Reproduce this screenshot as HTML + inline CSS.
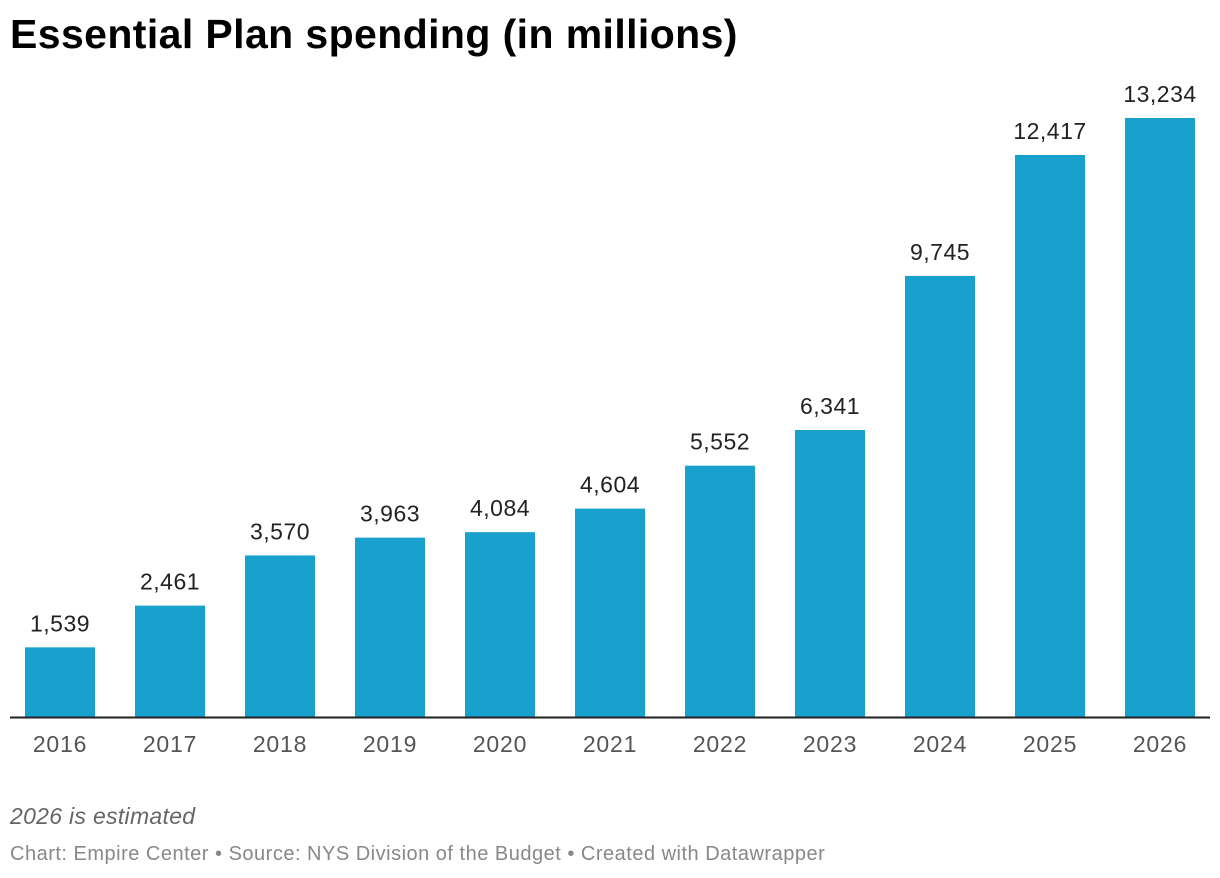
<!DOCTYPE html>
<html><head><meta charset="utf-8">
<style>
body{margin:0;background:#fff;width:1220px;height:878px;overflow:hidden;font-family:"Liberation Sans",Arial,sans-serif;}
#title{position:absolute;left:10px;top:11px;font-size:41px;font-weight:bold;color:#000;margin:0;letter-spacing:0.4px}
#note{position:absolute;left:10px;top:803px;font-size:23px;font-style:italic;color:#666;letter-spacing:0.3px}
#source{position:absolute;left:10px;top:843px;font-size:20px;color:#888;letter-spacing:0.5px}
svg{position:absolute;left:0;top:0}
</style></head><body>
<h1 id="title">Essential Plan spending (in millions)</h1>
<svg id="chart" width="1220" height="878"></svg>
<div id="note">2026 is estimated</div>
<div id="source">Chart: Empire Center • Source: NYS Division of the Budget • Created with Datawrapper</div>
<script>
const categories=["2016","2017","2018","2019","2020","2021","2022","2023","2024","2025","2026"];
const values=[1539,2461,3570,3963,4084,4604,5552,6341,9745,12417,13234];
const valueLabels=["1,539","2,461","3,570","3,963","4,084","4,604","5,552","6,341","9,745","12,417","13,234"];

const svg=document.getElementById('chart');
const NS='http://www.w3.org/2000/svg';
const baseY=717, topY=118, maxV=13234;
const y=v=>baseY-(v/maxV)*(baseY-topY);
const x0=25, step=110, bw=70;
const x=i=>x0+i*step;
categories.forEach((c,i)=>{
  const r=document.createElementNS(NS,'rect');
  r.setAttribute('x',x(i));r.setAttribute('y',y(values[i]));
  r.setAttribute('width',bw);r.setAttribute('height',baseY-y(values[i]));
  r.setAttribute('fill','#18a1cd');
  
  
  svg.appendChild(r);
  const t=document.createElementNS(NS,'text');
  t.setAttribute('x',x(i)+bw/2);t.setAttribute('y',y(values[i])-16);
  t.setAttribute('text-anchor','middle');t.setAttribute('font-size','23');t.setAttribute('fill','#222');
  t.setAttribute('letter-spacing','0.5');
  t.textContent=valueLabels[i];
  
  
  svg.appendChild(t);
  const l=document.createElementNS(NS,'text');
  l.setAttribute('x',x(i)+bw/2);l.setAttribute('y',752);
  l.setAttribute('text-anchor','middle');l.setAttribute('font-size','23');l.setAttribute('fill','#555');
  l.setAttribute('letter-spacing','0.8');
  l.textContent=c;
  
  
  svg.appendChild(l);
});
const ax=document.createElementNS(NS,'line');
ax.setAttribute('x1',10);ax.setAttribute('x2',1210);ax.setAttribute('y1',baseY+0.5);ax.setAttribute('y2',baseY+0.5);
ax.setAttribute('stroke','#222');ax.setAttribute('stroke-width','2');


svg.appendChild(ax);
</script>
</body></html>
